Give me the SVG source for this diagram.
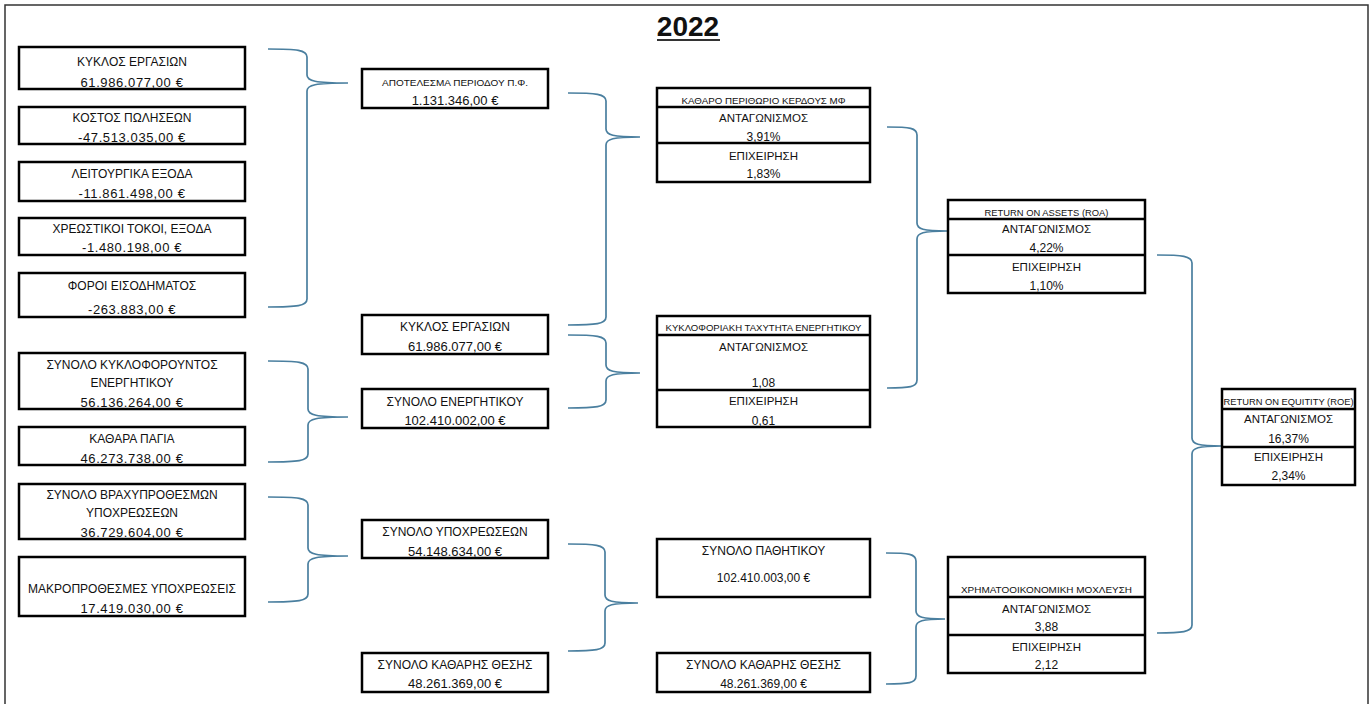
<svg xmlns="http://www.w3.org/2000/svg" width="1372" height="704" viewBox="0 0 1372 704">
<style>
.bx{fill:#fff;stroke:#000;stroke-width:2.5}
.dv{stroke:#000;stroke-width:2.5}
.t{font-family:"Liberation Sans",Arial,sans-serif;font-size:12px;fill:#111;text-anchor:middle}
.v{font-family:"Liberation Sans",Arial,sans-serif;font-size:13px;fill:#111;text-anchor:middle}
.vw{letter-spacing:0.6px}
.m{font-family:"Liberation Sans",Arial,sans-serif;font-size:11.5px;fill:#111;text-anchor:middle}
.mv{font-family:"Liberation Sans",Arial,sans-serif;font-size:12px;fill:#111;text-anchor:middle}
.h{font-family:"Liberation Sans",Arial,sans-serif;font-size:9px;fill:#111;text-anchor:middle}
.br{fill:none;stroke:#4a7f9f;stroke-width:1.7}
</style>
<rect width="1372" height="704" fill="#fff"/>
<path d="M5,704 V5 H1368 V704" fill="none" stroke="#333" stroke-width="1.5"/>
<g id="title">
<text x="688" y="36" style="font-family:'Liberation Sans',Arial,sans-serif;font-size:28px;font-weight:bold;fill:#111;text-anchor:middle">2022</text>
<line x1="657" y1="40" x2="720" y2="40" stroke="#333" stroke-width="2"/>
</g>
<g id="connectors">
<path class="br" d="M268,49 C297,49 307,50 307,57 L307,75 C307,81 315,83 348,83 C315,83 307,85 307,91 L307,299 C307,306 297,307 268,307"/>
<path class="br" d="M268,361 C298,361 308,362 308,369 L308,409 C308,415 316,417 348,417 C316,417 308,419 308,425 L308,454 C308,461 298,462 268,462"/>
<path class="br" d="M268,497 C298,497 308,498 308,505 L308,548 C308,554 316,556 348,556 C316,556 308,558 308,564 L308,594 C308,601 298,602 268,602"/>
<path class="br" d="M568,93 C596,93 606,94 606,101 L606,129 C606,135 613,137 640,137 C613,137 606,139 606,145 L606,317 C606,324 596,325 568,325"/>
<path class="br" d="M568,335 C596,335 606,336 606,343 L606,365 C606,371 613,373 640,373 C613,373 606,375 606,381 L606,400 C606,407 596,408 568,408"/>
<path class="br" d="M568,544 C595,544 605,545 605,552 L605,595 C605,601 612,603 638,603 C612,603 605,605 605,611 L605,643 C605,650 595,651 568,651"/>
<path class="br" d="M887,127 C910,127 917,128 917,135 L917,223 C917,229 923,231 947,231 C923,231 917,233 917,239 L917,380 C917,387 910,388 887,388"/>
<path class="br" d="M886,553 C909,553 916,554 916,561 L916,611 C916,617 922,619 945,619 C922,619 916,621 916,627 L916,676 C916,683 909,684 886,684"/>
<path class="br" d="M1157,255 C1182,255 1192,256 1192,263 L1192,438 C1192,444 1198,446 1222,446 C1198,446 1192,448 1192,454 L1192,625 C1192,632 1182,633 1157,633"/>
</g>
<g id="n_kyklos1"><rect class="bx" x="19" y="47" width="226" height="42"/><text class="t" x="132" y="66">ΚΥΚΛΟΣ ΕΡΓΑΣΙΩΝ</text><text class="v vw" x="132" y="87">61.986.077,00 €</text></g>
<g id="n_kostos"><rect class="bx" x="19" y="107" width="226" height="37"/><text class="t" x="132" y="122">ΚΟΣΤΟΣ ΠΩΛΗΣΕΩΝ</text><text class="v vw" x="132" y="142">-47.513.035,00 €</text></g>
<g id="n_leit"><rect class="bx" x="19" y="162" width="226" height="39"/><text class="t" x="132" y="178">ΛΕΙΤΟΥΡΓΙΚΑ ΕΞΟΔΑ</text><text class="v vw" x="132" y="198">-11.861.498,00 €</text></g>
<g id="n_tokoi"><rect class="bx" x="19" y="218" width="226" height="37"/><text class="t" x="132" y="233">ΧΡΕΩΣΤΙΚΟΙ ΤΟΚΟΙ, ΕΞΟΔΑ</text><text class="v vw" x="132" y="252">-1.480.198,00 €</text></g>
<g id="n_foroi"><rect class="bx" x="19" y="273" width="226" height="44"/><text class="t" x="132" y="290">ΦΟΡΟΙ ΕΙΣΟΔΗΜΑΤΟΣ</text><text class="v vw" x="132" y="314">-263.883,00 €</text></g>
<g id="n_kykl_energ"><rect class="bx" x="19" y="353" width="226" height="56"/><text class="t" x="132" y="369">ΣΥΝΟΛΟ ΚΥΚΛΟΦΟΡΟΥΝΤΟΣ</text><text class="t" x="132" y="387">ΕΝΕΡΓΗΤΙΚΟΥ</text><text class="v vw" x="132" y="407">56.136.264,00 €</text></g>
<g id="n_pagia"><rect class="bx" x="19" y="427" width="226" height="38"/><text class="t" x="132" y="443">ΚΑΘΑΡΑ ΠΑΓΙΑ</text><text class="v vw" x="132" y="463">46.273.738,00 €</text></g>
<g id="n_vraxy"><rect class="bx" x="19" y="484" width="226" height="55"/><text class="t" x="132" y="499">ΣΥΝΟΛΟ ΒΡΑΧΥΠΡΟΘΕΣΜΩΝ</text><text class="t" x="132" y="517">ΥΠΟΧΡΕΩΣΕΩΝ</text><text class="v vw" x="132" y="537">36.729.604,00 €</text></g>
<g id="n_makro"><rect class="bx" x="19" y="557" width="226" height="59"/><text class="t" x="132" y="593">ΜΑΚΡΟΠΡΟΘΕΣΜΕΣ ΥΠΟΧΡΕΩΣΕΙΣ</text><text class="v vw" x="132" y="613">17.419.030,00 €</text></g>
<g id="n_apotelesma"><rect class="bx" x="362" y="69" width="186" height="39"/><text class="h" x="455" y="86" textLength="146" lengthAdjust="spacingAndGlyphs">ΑΠΟΤΕΛΕΣΜΑ ΠΕΡΙΟΔΟΥ Π.Φ.</text><text class="v" x="455" y="105">1.131.346,00 €</text></g>
<g id="n_kyklos2"><rect class="bx" x="362" y="315" width="186" height="39"/><text class="t" x="455" y="331">ΚΥΚΛΟΣ ΕΡΓΑΣΙΩΝ</text><text class="v" x="455" y="351">61.986.077,00 €</text></g>
<g id="n_energ"><rect class="bx" x="362" y="389" width="186" height="39"/><text class="t" x="455" y="406">ΣΥΝΟΛΟ ΕΝΕΡΓΗΤΙΚΟΥ</text><text class="v" x="455" y="425">102.410.002,00 €</text></g>
<g id="n_ypoxr"><rect class="bx" x="362" y="520" width="186" height="38"/><text class="t" x="455" y="536">ΣΥΝΟΛΟ ΥΠΟΧΡΕΩΣΕΩΝ</text><text class="v" x="455" y="556">54.148.634,00 €</text></g>
<g id="n_kath_thesi1"><rect class="bx" x="362" y="653" width="186" height="39"/><text class="t" x="455" y="669">ΣΥΝΟΛΟ ΚΑΘΑΡΗΣ ΘΕΣΗΣ</text><text class="v" x="455" y="688">48.261.369,00 €</text></g>
<g id="n_perithorio"><rect class="bx" x="657" y="88" width="213" height="94"/><line class="dv" x1="657" y1="107" x2="870" y2="107"/><line class="dv" x1="657" y1="143" x2="870" y2="143"/><text class="h" x="763.5" y="104" textLength="164" lengthAdjust="spacingAndGlyphs">ΚΑΘΑΡΟ ΠΕΡΙΘΩΡΙΟ ΚΕΡΔΟΥΣ ΜΦ</text><text class="m" x="763.5" y="122">ΑΝΤΑΓΩΝΙΣΜΟΣ</text><text class="mv" x="763.5" y="141">3,91%</text><text class="m" x="763.5" y="160">ΕΠΙΧΕΙΡΗΣΗ</text><text class="mv" x="763.5" y="178">1,83%</text></g>
<g id="n_taxytita"><rect class="bx" x="657" y="316" width="213" height="111"/><line class="dv" x1="657" y1="335" x2="870" y2="335"/><line class="dv" x1="657" y1="390" x2="870" y2="390"/><text class="h" x="763.5" y="331" textLength="196" lengthAdjust="spacingAndGlyphs">ΚΥΚΛΟΦΟΡΙΑΚΗ ΤΑΧΥΤΗΤΑ ΕΝΕΡΓΗΤΙΚΟΥ</text><text class="m" x="763.5" y="351">ΑΝΤΑΓΩΝΙΣΜΟΣ</text><text class="mv" x="763.5" y="387">1,08</text><text class="m" x="763.5" y="405">ΕΠΙΧΕΙΡΗΣΗ</text><text class="mv" x="763.5" y="425">0,61</text></g>
<g id="n_pathitiko"><rect class="bx" x="657" y="539" width="213" height="58"/><text class="t" x="763.5" y="555">ΣΥΝΟΛΟ ΠΑΘΗΤΙΚΟΥ</text><text class="mv" x="763.5" y="582">102.410.003,00 €</text></g>
<g id="n_kath_thesi2"><rect class="bx" x="657" y="653" width="213" height="39"/><text class="t" x="763.5" y="669">ΣΥΝΟΛΟ ΚΑΘΑΡΗΣ ΘΕΣΗΣ</text><text class="mv" x="763.5" y="688">48.261.369,00 €</text></g>
<g id="n_roa"><rect class="bx" x="948" y="200" width="197" height="93"/><line class="dv" x1="948" y1="219" x2="1145" y2="219"/><line class="dv" x1="948" y1="255" x2="1145" y2="255"/><text class="h" x="1046.5" y="216" textLength="124" lengthAdjust="spacingAndGlyphs">RETURN ON ASSETS (ROA)</text><text class="m" x="1046.5" y="233">ΑΝΤΑΓΩΝΙΣΜΟΣ</text><text class="mv" x="1046.5" y="252">4,22%</text><text class="m" x="1046.5" y="271">ΕΠΙΧΕΙΡΗΣΗ</text><text class="mv" x="1046.5" y="290">1,10%</text></g>
<g id="n_moxleysi"><rect class="bx" x="948" y="557" width="197" height="116"/><line class="dv" x1="948" y1="597" x2="1145" y2="597"/><line class="dv" x1="948" y1="635" x2="1145" y2="635"/><text class="h" x="1046.5" y="593" textLength="171" lengthAdjust="spacingAndGlyphs">ΧΡΗΜΑΤΟΟΙΚΟΝΟΜΙΚΗ ΜΟΧΛΕΥΣΗ</text><text class="m" x="1046.5" y="613">ΑΝΤΑΓΩΝΙΣΜΟΣ</text><text class="mv" x="1046.5" y="631">3,88</text><text class="m" x="1046.5" y="651">ΕΠΙΧΕΙΡΗΣΗ</text><text class="mv" x="1046.5" y="669">2,12</text></g>
<g id="n_roe"><rect class="bx" x="1222" y="389" width="133" height="96"/><line class="dv" x1="1222" y1="409" x2="1355" y2="409"/><line class="dv" x1="1222" y1="447" x2="1355" y2="447"/><text class="h" x="1288.5" y="405" textLength="130" lengthAdjust="spacingAndGlyphs">RETURN ON EQUITITY (ROE)</text><text class="m" x="1288.5" y="423">ΑΝΤΑΓΩΝΙΣΜΟΣ</text><text class="mv" x="1288.5" y="443">16,37%</text><text class="m" x="1288.5" y="461">ΕΠΙΧΕΙΡΗΣΗ</text><text class="mv" x="1288.5" y="480">2,34%</text></g>
</svg>
